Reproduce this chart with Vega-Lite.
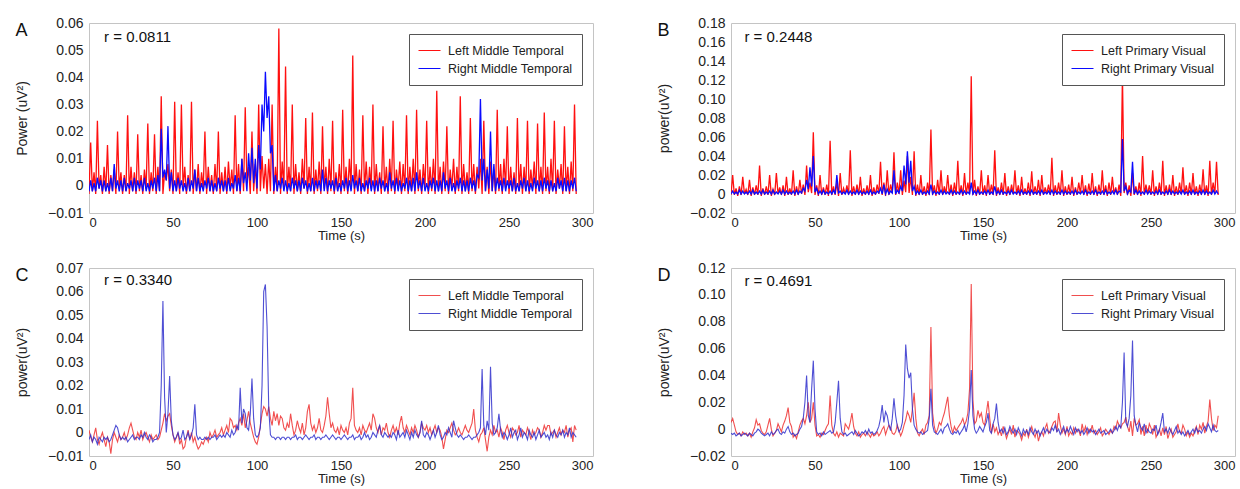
{
"$schema":"https://vega.github.io/schema/vega-lite/v6.json",
"padding":{"left":15,"top":15,"right":0,"bottom":0},
"background":"white",
"datasets":{"d":[
{"t":0,"a":-0.003,"b":-0.002,"c":-0.001,"d":0,"e":0.001,"f":-0.003,"g":0.005,"h":-0.003},
{"t":1,"a":0.016,"b":0.002,"c":0.02,"d":0.003,"e":-0.002,"f":-0.001,"g":0.008,"h":-0.004},
{"t":2,"a":-0.002,"b":-0.002,"c":-0.001,"d":0,"e":-0.004,"f":-0.004,"g":0.003,"h":-0.003},
{"t":3,"a":0.005,"b":0.001,"c":0.006,"d":0.002,"e":-0.001,"f":-0.002,"g":-0.002,"h":-0.005},
{"t":4,"a":-0.003,"b":-0.002,"c":-0.002,"d":0,"e":0.002,"f":-0.003,"g":-0.004,"h":-0.004},
{"t":5,"a":0.024,"b":0.003,"c":0.008,"d":0.004,"e":-0.003,"f":-0.005,"g":-0.003,"h":-0.003},
{"t":6,"a":-0.001,"b":-0.001,"c":-0.001,"d":0,"e":-0.005,"f":-0.002,"g":-0.005,"h":-0.005},
{"t":7,"a":0.004,"b":0.002,"c":0.018,"d":0.003,"e":-0.002,"f":-0.003,"g":-0.002,"h":-0.004},
{"t":8,"a":-0.003,"b":-0.002,"c":0,"d":0,"e":0,"f":-0.004,"g":-0.004,"h":-0.003},
{"t":9,"a":0.007,"b":0.002,"c":0.005,"d":0.002,"e":-0.003,"f":-0.002,"g":-0.003,"h":-0.004},
{"t":10,"a":-0.002,"b":-0.002,"c":-0.001,"d":0,"e":-0.006,"f":-0.003,"g":-0.005,"h":-0.005},
{"t":11,"a":0.015,"b":0.001,"c":0.015,"d":0.003,"e":-0.002,"f":-0.002,"g":-0.003,"h":-0.003},
{"t":12,"a":-0.003,"b":-0.002,"c":-0.002,"d":0,"e":-0.004,"f":-0.004,"g":-0.006,"h":-0.004},
{"t":13,"a":0.004,"b":0.003,"c":0.007,"d":0.004,"e":-0.009,"f":-0.003,"g":-0.002,"h":-0.005},
{"t":14,"a":-0.002,"b":-0.002,"c":-0.001,"d":0,"e":-0.003,"f":-0.001,"g":0.001,"h":-0.003},
{"t":15,"a":0.006,"b":0.008,"c":0.009,"d":0.002,"e":0,"f":0.001,"g":0.007,"h":-0.002},
{"t":16,"a":-0.003,"b":-0.001,"c":-0.001,"d":0,"e":-0.002,"f":0.003,"g":0.003,"h":0},
{"t":17,"a":0.02,"b":0.002,"c":0.03,"d":0.003,"e":-0.004,"f":0.002,"g":0.004,"h":-0.001},
{"t":18,"a":-0.001,"b":-0.002,"c":-0.002,"d":0,"e":-0.001,"f":-0.001,"g":-0.001,"h":-0.003},
{"t":19,"a":0.005,"b":0.002,"c":0.006,"d":0.004,"e":-0.003,"f":-0.003,"g":-0.003,"h":-0.004},
{"t":20,"a":-0.003,"b":-0.002,"c":-0.001,"d":0,"e":-0.002,"f":-0.002,"g":-0.004,"h":-0.005},
{"t":21,"a":0.004,"b":0.003,"c":0.008,"d":0.002,"e":0,"f":-0.003,"g":-0.002,"h":-0.004},
{"t":22,"a":-0.002,"b":-0.002,"c":-0.001,"d":0,"e":-0.003,"f":-0.002,"g":0.003,"h":-0.003},
{"t":23,"a":0.026,"b":0.001,"c":0.02,"d":0.003,"e":-0.001,"f":-0.004,"g":0.008,"h":-0.005},
{"t":24,"a":-0.003,"b":-0.001,"c":-0.002,"d":0,"e":0.002,"f":-0.003,"g":0,"h":-0.002},
{"t":25,"a":0.007,"b":0.002,"c":0.005,"d":0.004,"e":0.004,"f":-0.002,"g":-0.005,"h":-0.004},
{"t":26,"a":-0.002,"b":-0.002,"c":-0.001,"d":0,"e":0.001,"f":-0.001,"g":-0.003,"h":-0.003},
{"t":27,"a":0.005,"b":0.003,"c":0.022,"d":0.002,"e":-0.002,"f":-0.003,"g":-0.001,"h":-0.001},
{"t":28,"a":-0.003,"b":-0.002,"c":0,"d":0,"e":-0.003,"f":-0.002,"g":0.004,"h":0},
{"t":29,"a":0.019,"b":0.002,"c":0.007,"d":0.003,"e":0,"f":-0.002,"g":0.001,"h":-0.003},
{"t":30,"a":-0.002,"b":-0.001,"c":-0.001,"d":0,"e":-0.002,"f":-0.003,"g":-0.002,"h":-0.004},
{"t":31,"a":0.004,"b":0.002,"c":0.009,"d":0.004,"e":0.001,"f":-0.001,"g":0.003,"h":-0.002},
{"t":32,"a":-0.003,"b":-0.002,"c":-0.002,"d":0,"e":-0.003,"f":-0.002,"g":0.006,"h":-0.003},
{"t":33,"a":0.006,"b":0.003,"c":0.018,"d":0.003,"e":-0.001,"f":0,"g":0.01,"h":0},
{"t":34,"a":-0.001,"b":-0.002,"c":-0.001,"d":0,"e":0,"f":-0.002,"g":0.016,"h":0.002},
{"t":35,"a":0.023,"b":0.001,"c":0.006,"d":0.002,"e":-0.002,"f":-0.003,"g":0.005,"h":-0.002},
{"t":36,"a":-0.003,"b":-0.002,"c":-0.001,"d":0,"e":-0.004,"f":-0.001,"g":0.002,"h":-0.004},
{"t":37,"a":0.005,"b":0.002,"c":0.025,"d":0.003,"e":-0.001,"f":-0.002,"g":-0.006,"h":-0.003},
{"t":38,"a":-0.002,"b":-0.001,"c":-0.002,"d":0,"e":-0.003,"f":-0.004,"g":-0.004,"h":-0.005},
{"t":39,"a":0.019,"b":0.003,"c":0.008,"d":0.004,"e":-0.002,"f":-0.003,"g":-0.007,"h":-0.004},
{"t":40,"a":-0.003,"b":-0.002,"c":-0.001,"d":0,"e":-0.001,"f":-0.003,"g":-0.002,"h":-0.003},
{"t":41,"a":0.007,"b":0.004,"c":0.015,"d":0.003,"e":-0.003,"f":-0.002,"g":0.003,"h":0},
{"t":42,"a":-0.002,"b":-0.002,"c":0,"d":0.001,"e":-0.002,"f":0,"g":0.006,"h":0.002},
{"t":43,"a":0.033,"b":0.021,"c":0.01,"d":0.006,"e":0.001,"f":0.02,"g":0.008,"h":0.008},
{"t":44,"a":-0.003,"b":0.003,"c":-0.001,"d":0.003,"e":0.004,"f":0.056,"g":0.004,"h":0.02},
{"t":45,"a":0.005,"b":0.006,"c":0.03,"d":0.015,"e":0.008,"f":0.015,"g":0.01,"h":0.04},
{"t":46,"a":0.002,"b":0.002,"c":0.002,"d":0.005,"e":0.005,"f":0,"g":0.02,"h":0.01},
{"t":47,"a":0.008,"b":0.022,"c":0.012,"d":0.028,"e":0.007,"f":0.008,"g":0.005,"h":0.005},
{"t":48,"a":-0.002,"b":-0.001,"c":0.001,"d":0.008,"e":0.008,"f":0.024,"g":0.008,"h":0.03},
{"t":49,"a":0.006,"b":0.005,"c":0.065,"d":0.04,"e":0.003,"f":0.005,"g":0.02,"h":0.051},
{"t":50,"a":-0.003,"b":-0.002,"c":-0.001,"d":0.002,"e":-0.001,"f":-0.001,"g":0.003,"h":0.015},
{"t":51,"a":0.031,"b":0.002,"c":0.009,"d":0.006,"e":-0.004,"f":-0.003,"g":-0.005,"h":-0.002},
{"t":52,"a":-0.002,"b":-0.002,"c":-0.002,"d":0,"e":-0.002,"f":-0.002,"g":-0.004,"h":-0.004},
{"t":53,"a":0.005,"b":0.003,"c":0.02,"d":0.003,"e":0,"f":0,"g":-0.006,"h":-0.003},
{"t":54,"a":-0.003,"b":-0.001,"c":-0.001,"d":0,"e":-0.005,"f":-0.003,"g":-0.003,"h":-0.005},
{"t":55,"a":0.03,"b":0.002,"c":0.007,"d":0.004,"e":-0.003,"f":-0.002,"g":-0.004,"h":-0.002},
{"t":56,"a":-0.001,"b":-0.002,"c":-0.001,"d":0,"e":-0.007,"f":0.001,"g":-0.001,"h":-0.004},
{"t":57,"a":0.007,"b":0.001,"c":0.01,"d":0.002,"e":-0.006,"f":-0.003,"g":0.002,"h":-0.003},
{"t":58,"a":-0.003,"b":-0.002,"c":-0.002,"d":0,"e":-0.002,"f":-0.002,"g":0.004,"h":-0.002},
{"t":59,"a":0.004,"b":0.003,"c":0.056,"d":0.003,"e":0.001,"f":0,"g":0.025,"h":-0.001},
{"t":60,"a":-0.002,"b":-0.002,"c":-0.001,"d":0,"e":-0.003,"f":-0.003,"g":0.003,"h":-0.003},
{"t":61,"a":0.031,"b":0.002,"c":0.008,"d":0.004,"e":0,"f":-0.001,"g":-0.003,"h":-0.002},
{"t":62,"a":-0.003,"b":-0.001,"c":-0.001,"d":0,"e":-0.004,"f":0.002,"g":-0.005,"h":0.005},
{"t":63,"a":0.006,"b":0.006,"c":0.012,"d":0.02,"e":-0.002,"f":0.012,"g":-0.002,"h":0.02},
{"t":64,"a":-0.002,"b":-0.002,"c":-0.002,"d":0.001,"e":-0.005,"f":-0.001,"g":-0.006,"h":0.036},
{"t":65,"a":0.008,"b":0.003,"c":0.022,"d":0.003,"e":-0.007,"f":-0.003,"g":-0.003,"h":0.008},
{"t":66,"a":-0.003,"b":-0.002,"c":-0.001,"d":0,"e":-0.006,"f":-0.002,"g":-0.004,"h":-0.002},
{"t":67,"a":0.005,"b":0.001,"c":0.006,"d":0.002,"e":-0.004,"f":-0.003,"g":-0.005,"h":-0.004},
{"t":68,"a":-0.001,"b":-0.002,"c":0,"d":0,"e":-0.005,"f":-0.003,"g":0.004,"h":-0.003},
{"t":69,"a":0.02,"b":0.002,"c":0.009,"d":0.004,"e":-0.003,"f":-0.002,"g":0.002,"h":-0.005},
{"t":70,"a":-0.003,"b":-0.001,"c":-0.001,"d":0,"e":-0.002,"f":-0.003,"g":0,"h":-0.004},
{"t":71,"a":0.007,"b":0.003,"c":0.046,"d":0.003,"e":-0.004,"f":-0.002,"g":0.005,"h":-0.003},
{"t":72,"a":-0.002,"b":-0.002,"c":-0.002,"d":0,"e":0,"f":-0.003,"g":0.012,"h":-0.002},
{"t":73,"a":0.004,"b":0.002,"c":0.008,"d":0.002,"e":-0.002,"f":-0.002,"g":0.002,"h":-0.004},
{"t":74,"a":-0.003,"b":-0.002,"c":-0.001,"d":0,"e":-0.001,"f":-0.002,"g":-0.003,"h":-0.001},
{"t":75,"a":0.008,"b":0.001,"c":0.01,"d":0.004,"e":0.001,"f":-0.001,"g":-0.005,"h":-0.003},
{"t":76,"a":-0.002,"b":-0.002,"c":-0.001,"d":0,"e":-0.002,"f":-0.003,"g":-0.002,"h":-0.005},
{"t":77,"a":0.02,"b":0.003,"c":0.018,"d":0.003,"e":-0.001,"f":-0.002,"g":-0.006,"h":-0.004},
{"t":78,"a":-0.003,"b":-0.001,"c":-0.002,"d":0,"e":0,"f":-0.001,"g":-0.004,"h":-0.002},
{"t":79,"a":0.005,"b":0.002,"c":0.006,"d":0.002,"e":0.002,"f":-0.002,"g":-0.003,"h":-0.003},
{"t":80,"a":-0.002,"b":-0.002,"c":-0.001,"d":0,"e":-0.001,"f":-0.001,"g":-0.005,"h":-0.001},
{"t":81,"a":0.007,"b":0.002,"c":0.009,"d":0.003,"e":0.001,"f":-0.002,"g":-0.002,"h":-0.004},
{"t":82,"a":-0.003,"b":-0.002,"c":-0.001,"d":0,"e":0.003,"f":0,"g":-0.004,"h":0},
{"t":83,"a":0.009,"b":0.003,"c":0.02,"d":0.004,"e":0,"f":-0.001,"g":-0.006,"h":-0.003},
{"t":84,"a":-0.001,"b":-0.002,"c":-0.002,"d":0,"e":0.006,"f":-0.002,"g":-0.003,"h":-0.002},
{"t":85,"a":0.006,"b":0.001,"c":0.007,"d":0.002,"e":0.005,"f":0.001,"g":-0.005,"h":-0.004},
{"t":86,"a":-0.003,"b":-0.001,"c":-0.001,"d":0,"e":0.002,"f":-0.001,"g":-0.004,"h":-0.003},
{"t":87,"a":0.026,"b":0.004,"c":0.01,"d":0.003,"e":0.003,"f":0,"g":-0.002,"h":-0.001},
{"t":88,"a":-0.002,"b":-0.002,"c":0,"d":0.001,"e":0.001,"f":0.003,"g":-0.005,"h":0.002},
{"t":89,"a":0.008,"b":0.003,"c":0.034,"d":0.006,"e":0.004,"f":0.001,"g":-0.003,"h":0.008},
{"t":90,"a":-0.003,"b":-0.002,"c":-0.001,"d":0,"e":0.006,"f":0.019,"g":0,"h":0.018},
{"t":91,"a":0.01,"b":0.01,"c":0.012,"d":0.01,"e":0.003,"f":0.004,"g":0.002,"h":0.005},
{"t":92,"a":-0.002,"b":0.001,"c":-0.002,"d":0,"e":0.008,"f":0.01,"g":-0.004,"h":0.013},
{"t":93,"a":0.029,"b":0.005,"c":0.025,"d":0.005,"e":0.002,"f":0.008,"g":0,"h":0.01},
{"t":94,"a":0.001,"b":-0.002,"c":-0.001,"d":0,"e":0.005,"f":0.002,"g":0.003,"h":0.003},
{"t":95,"a":0.007,"b":0.012,"c":0.01,"d":0.003,"e":0.009,"f":0.001,"g":0.001,"h":-0.001},
{"t":96,"a":-0.003,"b":0.002,"c":0.001,"d":0.001,"e":0.004,"f":0.008,"g":-0.003,"h":0.008},
{"t":97,"a":0.02,"b":0.014,"c":0.044,"d":0.025,"e":0.001,"f":0.023,"g":-0.004,"h":0.023},
{"t":98,"a":-0.002,"b":0.001,"c":-0.001,"d":0,"e":-0.002,"f":0.006,"g":-0.002,"h":0.01},
{"t":99,"a":0.008,"b":0.01,"c":0.012,"d":0.004,"e":-0.004,"f":-0.001,"g":0.003,"h":0.002},
{"t":100,"a":-0.003,"b":-0.001,"c":0,"d":0.001,"e":-0.005,"f":-0.002,"g":-0.001,"h":-0.002},
{"t":101,"a":0.03,"b":0.015,"c":0.025,"d":0.008,"e":-0.002,"f":-0.001,"g":-0.005,"h":0},
{"t":102,"a":-0.002,"b":0.006,"c":-0.001,"d":0.003,"e":0.003,"f":0.002,"g":-0.002,"h":0.005},
{"t":103,"a":0.011,"b":0.03,"c":0.014,"d":0.03,"e":0.008,"f":0.02,"g":0.003,"h":0.025},
{"t":104,"a":-0.001,"b":0.02,"c":0.002,"d":0.01,"e":0.011,"f":0.06,"g":0.007,"h":0.063},
{"t":105,"a":0.008,"b":0.042,"c":0.04,"d":0.045,"e":0.01,"f":0.063,"g":0.013,"h":0.045},
{"t":106,"a":-0.003,"b":0.025,"c":0.001,"d":0.012,"e":0.007,"f":0.045,"g":0.01,"h":0.038},
{"t":107,"a":0.01,"b":0.033,"c":0.018,"d":0.035,"e":0.011,"f":0.01,"g":0.005,"h":0.042},
{"t":108,"a":-0.002,"b":0.012,"c":-0.001,"d":0.003,"e":0.006,"f":-0.001,"g":0.015,"h":0.015},
{"t":109,"a":0.03,"b":0.015,"c":0.045,"d":0.008,"e":0.003,"f":-0.002,"g":0.027,"h":0.003},
{"t":110,"a":-0.003,"b":-0.002,"c":-0.002,"d":0,"e":0.009,"f":-0.002,"g":0.008,"h":0},
{"t":111,"a":0.007,"b":0.004,"c":0.01,"d":0.003,"e":0.005,"f":-0.003,"g":-0.003,"h":-0.002},
{"t":112,"a":-0.002,"b":-0.002,"c":-0.001,"d":0,"e":0.008,"f":-0.002,"g":-0.005,"h":-0.003},
{"t":113,"a":0.058,"b":0.002,"c":0.02,"d":0.004,"e":0.003,"f":-0.002,"g":-0.002,"h":-0.002},
{"t":114,"a":-0.003,"b":-0.001,"c":-0.001,"d":0,"e":0.007,"f":-0.003,"g":0,"h":-0.004},
{"t":115,"a":0.009,"b":0.003,"c":0.008,"d":0.002,"e":0.006,"f":-0.002,"g":-0.004,"h":-0.003},
{"t":116,"a":-0.001,"b":-0.002,"c":-0.002,"d":0,"e":0.002,"f":-0.002,"g":0.003,"h":-0.002},
{"t":117,"a":0.044,"b":0.002,"c":0.012,"d":0.003,"e":0.001,"f":-0.003,"g":0.005,"h":-0.001},
{"t":118,"a":-0.003,"b":-0.002,"c":-0.001,"d":0,"e":0.004,"f":-0.002,"g":0.01,"h":0.008},
{"t":119,"a":0.007,"b":0.001,"c":0.068,"d":0.01,"e":0.002,"f":-0.002,"g":0.076,"h":0.03},
{"t":120,"a":-0.002,"b":-0.002,"c":-0.001,"d":0,"e":0.008,"f":-0.003,"g":0.012,"h":0.003},
{"t":121,"a":0.03,"b":0.003,"c":0.009,"d":0.003,"e":0.003,"f":-0.002,"g":0.002,"h":-0.002},
{"t":122,"a":-0.003,"b":-0.001,"c":-0.002,"d":0,"e":-0.001,"f":-0.002,"g":-0.003,"h":-0.003},
{"t":123,"a":0.008,"b":0.002,"c":0.015,"d":0.002,"e":0.001,"f":-0.001,"g":0,"h":-0.004},
{"t":124,"a":-0.002,"b":-0.002,"c":-0.001,"d":0,"e":0.005,"f":-0.003,"g":0.005,"h":-0.002},
{"t":125,"a":0.005,"b":0.002,"c":0.025,"d":0.004,"e":0.002,"f":-0.002,"g":0.003,"h":0},
{"t":126,"a":-0.003,"b":-0.002,"c":-0.001,"d":0,"e":0,"f":-0.002,"g":0.008,"h":-0.003},
{"t":127,"a":0.01,"b":0.003,"c":0.008,"d":0.003,"e":0.004,"f":-0.003,"g":0.012,"h":0.001},
{"t":128,"a":-0.001,"b":-0.001,"c":0,"d":0,"e":-0.001,"f":-0.002,"g":0.018,"h":0.002},
{"t":129,"a":0.025,"b":0.002,"c":0.02,"d":0.002,"e":0.002,"f":-0.001,"g":0.024,"h":0.004},
{"t":130,"a":-0.003,"b":-0.002,"c":-0.001,"d":0,"e":0.009,"f":-0.002,"g":0.01,"h":0},
{"t":131,"a":0.007,"b":0.001,"c":0.01,"d":0.004,"e":0.012,"f":-0.003,"g":0.002,"h":-0.003},
{"t":132,"a":-0.002,"b":-0.002,"c":-0.002,"d":0,"e":0.004,"f":-0.002,"g":-0.003,"h":-0.004},
{"t":133,"a":0.027,"b":0.003,"c":0.012,"d":0.003,"e":0.001,"f":-0.002,"g":0.002,"h":-0.002},
{"t":134,"a":-0.003,"b":-0.002,"c":-0.001,"d":0,"e":0.003,"f":-0.001,"g":-0.001,"h":-0.003},
{"t":135,"a":0.006,"b":0.002,"c":0.035,"d":0.002,"e":0,"f":-0.003,"g":0.001,"h":-0.001},
{"t":136,"a":-0.002,"b":-0.001,"c":-0.001,"d":0,"e":0.002,"f":-0.002,"g":0.003,"h":-0.004},
{"t":137,"a":0.009,"b":0.002,"c":0.009,"d":0.004,"e":0.006,"f":-0.002,"g":0.005,"h":-0.002},
{"t":138,"a":-0.003,"b":-0.002,"c":-0.002,"d":0,"e":0.001,"f":-0.003,"g":0.008,"h":0},
{"t":139,"a":0.022,"b":0.006,"c":0.022,"d":0.003,"e":0,"f":-0.002,"g":0.003,"h":0.003},
{"t":140,"a":-0.001,"b":-0.002,"c":-0.001,"d":0,"e":0.003,"f":-0.002,"g":0.006,"h":-0.002},
{"t":141,"a":0.007,"b":0.003,"c":0.012,"d":0.002,"e":0.007,"f":-0.001,"g":0.012,"h":0.004},
{"t":142,"a":-0.003,"b":-0.002,"c":0,"d":0,"e":0.015,"f":-0.002,"g":0.03,"h":0.015},
{"t":143,"a":0.01,"b":0.002,"c":0.124,"d":0.012,"e":0.008,"f":-0.003,"g":0.108,"h":0.044},
{"t":144,"a":-0.002,"b":-0.001,"c":-0.001,"d":0,"e":0.002,"f":-0.002,"g":0.022,"h":0.01},
{"t":145,"a":0.024,"b":0.002,"c":0.015,"d":0.003,"e":0.004,"f":-0.001,"g":0.004,"h":0},
{"t":146,"a":-0.003,"b":-0.002,"c":-0.002,"d":0,"e":0.001,"f":-0.002,"g":0.006,"h":-0.003},
{"t":147,"a":0.005,"b":0.003,"c":0.008,"d":0.004,"e":0,"f":-0.003,"g":0.014,"h":-0.001},
{"t":148,"a":-0.002,"b":-0.002,"c":-0.001,"d":0,"e":0.002,"f":-0.002,"g":0.009,"h":0.002},
{"t":149,"a":0.008,"b":0.001,"c":0.025,"d":0.002,"e":-0.001,"f":-0.002,"g":0.012,"h":0},
{"t":150,"a":-0.003,"b":-0.002,"c":-0.001,"d":0,"e":0.003,"f":-0.003,"g":0.005,"h":-0.002},
{"t":151,"a":0.028,"b":0.002,"c":0.009,"d":0.003,"e":0.001,"f":-0.002,"g":0.003,"h":0.002},
{"t":152,"a":-0.002,"b":-0.001,"c":-0.002,"d":0,"e":0,"f":-0.001,"g":0.012,"h":0.005},
{"t":153,"a":0.007,"b":0.003,"c":0.02,"d":0.004,"e":0.002,"f":-0.002,"g":0.021,"h":0.012},
{"t":154,"a":-0.003,"b":-0.002,"c":-0.001,"d":0,"e":-0.001,"f":-0.003,"g":0.008,"h":-0.001},
{"t":155,"a":0.01,"b":0.002,"c":0.01,"d":0.002,"e":0.004,"f":-0.002,"g":-0.003,"h":-0.003},
{"t":156,"a":-0.001,"b":-0.002,"c":-0.001,"d":0,"e":0.006,"f":-0.002,"g":0.004,"h":0.004},
{"t":157,"a":0.048,"b":0.004,"c":0.046,"d":0.008,"e":0.019,"f":-0.001,"g":-0.002,"h":0.008},
{"t":158,"a":-0.003,"b":-0.001,"c":-0.002,"d":0,"e":0.003,"f":-0.003,"g":0.001,"h":0.019},
{"t":159,"a":0.008,"b":0.002,"c":0.007,"d":0.003,"e":0.001,"f":-0.002,"g":-0.004,"h":0.005},
{"t":160,"a":-0.002,"b":-0.002,"c":-0.001,"d":0,"e":0,"f":-0.002,"g":-0.001,"h":-0.002},
{"t":161,"a":0.006,"b":0.003,"c":0.012,"d":0.004,"e":0.002,"f":-0.001,"g":-0.005,"h":0},
{"t":162,"a":-0.003,"b":-0.002,"c":-0.001,"d":0,"e":-0.001,"f":-0.003,"g":0.002,"h":-0.003},
{"t":163,"a":0.026,"b":0.001,"c":0.022,"d":0.002,"e":0.003,"f":-0.002,"g":-0.002,"h":0.001},
{"t":164,"a":-0.002,"b":-0.002,"c":-0.002,"d":0,"e":0.001,"f":0,"g":-0.007,"h":-0.004},
{"t":165,"a":0.009,"b":0.002,"c":0.008,"d":0.003,"e":0,"f":-0.002,"g":-0.003,"h":-0.002},
{"t":166,"a":-0.003,"b":-0.001,"c":-0.001,"d":0,"e":0.002,"f":-0.001,"g":0,"h":0.002},
{"t":167,"a":0.007,"b":0.003,"c":0.01,"d":0.004,"e":0.004,"f":-0.003,"g":-0.004,"h":-0.001},
{"t":168,"a":-0.001,"b":-0.002,"c":0,"d":0,"e":0.001,"f":-0.002,"g":0.003,"h":-0.003},
{"t":169,"a":0.03,"b":0.002,"c":0.025,"d":0.002,"e":0.008,"f":0,"g":-0.006,"h":0},
{"t":170,"a":-0.003,"b":-0.002,"c":-0.001,"d":0,"e":0.006,"f":-0.001,"g":-0.001,"h":-0.004},
{"t":171,"a":0.008,"b":0.002,"c":0.009,"d":0.003,"e":0.002,"f":-0.002,"g":-0.002,"h":0.001},
{"t":172,"a":-0.002,"b":-0.002,"c":-0.002,"d":0,"e":0,"f":0.001,"g":-0.004,"h":-0.002},
{"t":173,"a":0.005,"b":0.003,"c":0.018,"d":0.004,"e":0.003,"f":0.003,"g":-0.008,"h":-0.005},
{"t":174,"a":-0.003,"b":-0.001,"c":-0.001,"d":0,"e":-0.001,"f":-0.001,"g":-0.003,"h":0},
{"t":175,"a":0.022,"b":0.002,"c":0.006,"d":0.002,"e":0.002,"f":-0.002,"g":-0.005,"h":-0.003},
{"t":176,"a":-0.002,"b":-0.002,"c":-0.001,"d":0,"e":0.001,"f":0,"g":0,"h":-0.001},
{"t":177,"a":0.007,"b":0.001,"c":0.012,"d":0.003,"e":0.004,"f":-0.001,"g":-0.006,"h":-0.004},
{"t":178,"a":-0.003,"b":-0.002,"c":-0.002,"d":0,"e":0,"f":-0.002,"g":-0.002,"h":0.001},
{"t":179,"a":0.01,"b":0.005,"c":0.024,"d":0.004,"e":-0.002,"f":-0.001,"g":0.002,"h":-0.002},
{"t":180,"a":-0.002,"b":-0.001,"c":-0.001,"d":0,"e":0.001,"f":-0.002,"g":-0.003,"h":-0.004},
{"t":181,"a":0.024,"b":0.002,"c":0.008,"d":0.002,"e":0.003,"f":0,"g":-0.006,"h":0},
{"t":182,"a":-0.003,"b":-0.002,"c":-0.001,"d":0,"e":0,"f":-0.001,"g":-0.001,"h":-0.003},
{"t":183,"a":0.006,"b":0.003,"c":0.015,"d":0.003,"e":0.002,"f":-0.003,"g":-0.009,"h":-0.001},
{"t":184,"a":-0.001,"b":-0.002,"c":-0.002,"d":0,"e":-0.001,"f":0.001,"g":-0.004,"h":-0.005},
{"t":185,"a":0.009,"b":0.002,"c":0.02,"d":0.004,"e":0.004,"f":-0.002,"g":-0.002,"h":-0.002},
{"t":186,"a":-0.003,"b":-0.002,"c":-0.001,"d":0,"e":0.007,"f":-0.001,"g":-0.005,"h":0.001},
{"t":187,"a":0.008,"b":0.001,"c":0.007,"d":0.002,"e":0.002,"f":0,"g":0.001,"h":-0.003},
{"t":188,"a":-0.002,"b":-0.001,"c":0,"d":0,"e":0,"f":-0.002,"g":0.004,"h":0},
{"t":189,"a":0.026,"b":0.003,"c":0.01,"d":0.003,"e":0.003,"f":0.001,"g":-0.003,"h":-0.002},
{"t":190,"a":-0.003,"b":-0.002,"c":-0.001,"d":0,"e":0.001,"f":-0.001,"g":-0.001,"h":-0.003},
{"t":191,"a":0.007,"b":0.002,"c":0.038,"d":0.004,"e":-0.001,"f":-0.003,"g":0.002,"h":0.001},
{"t":192,"a":-0.002,"b":-0.002,"c":-0.002,"d":0,"e":0.002,"f":0,"g":0.005,"h":-0.001},
{"t":193,"a":0.01,"b":0.003,"c":0.009,"d":0.003,"e":0,"f":-0.002,"g":0.006,"h":0.003},
{"t":194,"a":-0.003,"b":-0.002,"c":-0.001,"d":0,"e":0.003,"f":0.001,"g":-0.002,"h":-0.002},
{"t":195,"a":0.028,"b":0.005,"c":0.012,"d":0.002,"e":0.001,"f":-0.001,"g":0.012,"h":0},
{"t":196,"a":-0.002,"b":-0.001,"c":-0.001,"d":0,"e":-0.002,"f":-0.002,"g":0.003,"h":-0.004},
{"t":197,"a":0.006,"b":0.002,"c":0.025,"d":0.004,"e":0,"f":0,"g":-0.003,"h":-0.001},
{"t":198,"a":-0.003,"b":-0.002,"c":-0.002,"d":0,"e":0.004,"f":0.005,"g":0,"h":0.002},
{"t":199,"a":0.008,"b":0.003,"c":0.008,"d":0.003,"e":0.002,"f":-0.001,"g":-0.004,"h":-0.003},
{"t":200,"a":-0.001,"b":-0.002,"c":-0.001,"d":0,"e":0.001,"f":-0.002,"g":0.002,"h":0},
{"t":201,"a":0.024,"b":0.001,"c":0.01,"d":0.002,"e":0.003,"f":0,"g":-0.005,"h":-0.002},
{"t":202,"a":-0.003,"b":-0.002,"c":-0.001,"d":0,"e":0,"f":-0.001,"g":-0.002,"h":0.002},
{"t":203,"a":0.007,"b":0.002,"c":0.018,"d":0.003,"e":0.002,"f":-0.003,"g":-0.004,"h":-0.001},
{"t":204,"a":-0.002,"b":-0.001,"c":-0.002,"d":0,"e":-0.001,"f":-0.001,"g":0.001,"h":-0.004},
{"t":205,"a":0.01,"b":0.003,"c":0.007,"d":0.004,"e":0.001,"f":0.001,"g":-0.003,"h":0.001},
{"t":206,"a":-0.003,"b":-0.002,"c":-0.001,"d":0,"e":0.003,"f":-0.002,"g":0,"h":-0.002},
{"t":207,"a":0.035,"b":0.002,"c":0.012,"d":0.002,"e":0,"f":0,"g":-0.001,"h":0},
{"t":208,"a":-0.002,"b":-0.002,"c":0,"d":0,"e":0.002,"f":0.003,"g":-0.005,"h":-0.003},
{"t":209,"a":0.007,"b":0.002,"c":0.02,"d":0.003,"e":0.001,"f":-0.001,"g":0.004,"h":-0.001},
{"t":210,"a":-0.003,"b":-0.002,"c":-0.001,"d":0,"e":-0.002,"f":-0.003,"g":-0.002,"h":-0.004},
{"t":211,"a":0.009,"b":0.005,"c":0.009,"d":0.004,"e":-0.007,"f":-0.002,"g":0.002,"h":-0.002},
{"t":212,"a":-0.002,"b":-0.001,"c":-0.002,"d":0,"e":-0.003,"f":0,"g":-0.004,"h":0.001},
{"t":213,"a":0.022,"b":0.002,"c":0.011,"d":0.002,"e":0.001,"f":-0.001,"g":0,"h":-0.003},
{"t":214,"a":-0.003,"b":-0.002,"c":-0.001,"d":0,"e":0,"f":0.002,"g":-0.002,"h":0},
{"t":215,"a":0.006,"b":0.003,"c":0.022,"d":0.003,"e":0.002,"f":0,"g":0.003,"h":-0.002},
{"t":216,"a":-0.001,"b":-0.002,"c":-0.001,"d":0,"e":0.004,"f":-0.002,"g":-0.003,"h":-0.001},
{"t":217,"a":0.01,"b":0.001,"c":0.008,"d":0.004,"e":0.001,"f":0.005,"g":-0.001,"h":-0.004},
{"t":218,"a":-0.003,"b":-0.002,"c":-0.002,"d":0,"e":-0.001,"f":0.002,"g":-0.004,"h":-0.002},
{"t":219,"a":0.007,"b":0.002,"c":0.01,"d":0.002,"e":0,"f":-0.001,"g":-0.002,"h":0},
{"t":220,"a":-0.002,"b":-0.001,"c":-0.001,"d":0,"e":0.002,"f":-0.002,"g":0.001,"h":-0.003},
{"t":221,"a":0.033,"b":0.003,"c":0.025,"d":0.003,"e":0,"f":-0.001,"g":-0.005,"h":-0.002},
{"t":222,"a":-0.003,"b":-0.002,"c":-0.001,"d":0,"e":-0.001,"f":-0.002,"g":-0.003,"h":-0.001},
{"t":223,"a":0.008,"b":0.002,"c":0.009,"d":0.004,"e":0.001,"f":-0.003,"g":0,"h":-0.004},
{"t":224,"a":-0.002,"b":-0.002,"c":-0.002,"d":0,"e":0.003,"f":-0.002,"g":-0.002,"h":-0.003},
{"t":225,"a":0.005,"b":0.002,"c":0.012,"d":0.002,"e":0.001,"f":-0.002,"g":-0.004,"h":-0.002},
{"t":226,"a":-0.003,"b":-0.002,"c":-0.001,"d":0,"e":0,"f":-0.001,"g":-0.001,"h":0},
{"t":227,"a":0.025,"b":0.003,"c":0.018,"d":0.003,"e":0.002,"f":-0.002,"g":-0.003,"h":-0.003},
{"t":228,"a":-0.002,"b":-0.001,"c":0,"d":0,"e":0.004,"f":-0.003,"g":0.002,"h":-0.001},
{"t":229,"a":0.008,"b":0.002,"c":0.007,"d":0.004,"e":0.01,"f":-0.002,"g":0,"h":0.002},
{"t":230,"a":-0.003,"b":-0.002,"c":-0.001,"d":0,"e":0.001,"f":-0.002,"g":0.006,"h":-0.001},
{"t":231,"a":0.007,"b":0.004,"c":0.01,"d":0.003,"e":-0.002,"f":-0.001,"g":0.003,"h":0.003},
{"t":232,"a":-0.001,"b":0.003,"c":-0.002,"d":0.002,"e":-0.004,"f":0,"g":0.001,"h":0.001},
{"t":233,"a":0.01,"b":0.032,"c":0.125,"d":0.058,"e":-0.001,"f":0.002,"g":0.004,"h":0.02},
{"t":234,"a":-0.003,"b":0.002,"c":0.001,"d":0.003,"e":0,"f":0.027,"g":0.005,"h":0.057},
{"t":235,"a":0.024,"b":0.01,"c":0.012,"d":0.008,"e":0.002,"f":0.003,"g":0.009,"h":0.005},
{"t":236,"a":-0.002,"b":-0.002,"c":-0.001,"d":0,"e":-0.003,"f":-0.001,"g":0.002,"h":0.002},
{"t":237,"a":0.007,"b":0.006,"c":0.009,"d":0.004,"e":-0.008,"f":0.005,"g":-0.002,"h":0.008},
{"t":238,"a":-0.003,"b":-0.001,"c":-0.002,"d":0.002,"e":-0.002,"f":0.001,"g":0.006,"h":0.025},
{"t":239,"a":0.009,"b":0.02,"c":0.022,"d":0.034,"e":0.001,"f":0.028,"g":-0.005,"h":0.066},
{"t":240,"a":-0.002,"b":-0.002,"c":-0.001,"d":0,"e":-0.001,"f":0.004,"g":0.008,"h":0.01},
{"t":241,"a":0.006,"b":0.008,"c":0.008,"d":0.004,"e":0.003,"f":-0.001,"g":0.003,"h":0.003},
{"t":242,"a":-0.003,"b":-0.002,"c":-0.001,"d":0,"e":0,"f":0,"g":0.004,"h":-0.002},
{"t":243,"a":0.028,"b":0.003,"c":0.012,"d":0.003,"e":0.001,"f":0.002,"g":0.007,"h":0.005},
{"t":244,"a":-0.002,"b":-0.001,"c":-0.002,"d":0,"e":-0.002,"f":0.008,"g":-0.004,"h":0.001},
{"t":245,"a":0.008,"b":0.002,"c":0.04,"d":0.002,"e":0.002,"f":0.001,"g":0.002,"h":-0.001},
{"t":246,"a":-0.003,"b":-0.002,"c":-0.001,"d":0,"e":0,"f":-0.002,"g":-0.005,"h":0.004},
{"t":247,"a":0.01,"b":0.003,"c":0.01,"d":0.004,"e":-0.003,"f":0,"g":0.003,"h":-0.003},
{"t":248,"a":-0.001,"b":-0.002,"c":0,"d":0,"e":0.001,"f":-0.001,"g":-0.003,"h":0},
{"t":249,"a":0.022,"b":0.002,"c":0.009,"d":0.003,"e":0.003,"f":-0.003,"g":0.004,"h":-0.002},
{"t":250,"a":-0.003,"b":-0.001,"c":-0.001,"d":0,"e":0,"f":-0.001,"g":0.001,"h":-0.003},
{"t":251,"a":0.007,"b":0.002,"c":0.025,"d":0.002,"e":-0.002,"f":0.002,"g":-0.004,"h":0},
{"t":252,"a":-0.002,"b":-0.002,"c":-0.002,"d":0,"e":0.002,"f":-0.002,"g":0.003,"h":-0.001},
{"t":253,"a":0.005,"b":0.003,"c":0.008,"d":0.003,"e":0.001,"f":0,"g":-0.006,"h":0.003},
{"t":254,"a":-0.003,"b":-0.002,"c":-0.001,"d":0,"e":-0.001,"f":0.001,"g":-0.003,"h":-0.004},
{"t":255,"a":0.025,"b":0.001,"c":0.012,"d":0.004,"e":0,"f":-0.003,"g":0,"h":-0.001},
{"t":256,"a":-0.002,"b":-0.002,"c":-0.001,"d":0,"e":0.003,"f":-0.001,"g":-0.005,"h":0.005},
{"t":257,"a":0.008,"b":0.002,"c":0.035,"d":0.002,"e":-0.002,"f":0.002,"g":0.001,"h":0.012},
{"t":258,"a":-0.003,"b":-0.001,"c":-0.002,"d":0,"e":0.001,"f":-0.002,"g":-0.004,"h":-0.002},
{"t":259,"a":0.007,"b":0.003,"c":0.009,"d":0.003,"e":0,"f":0,"g":0.002,"h":0},
{"t":260,"a":-0.002,"b":-0.002,"c":-0.001,"d":0,"e":-0.001,"f":-0.001,"g":-0.007,"h":-0.003},
{"t":261,"a":0.024,"b":0.002,"c":0.01,"d":0.004,"e":0.002,"f":-0.003,"g":-0.003,"h":0.001},
{"t":262,"a":-0.003,"b":-0.002,"c":-0.001,"d":0,"e":0,"f":0.001,"g":0,"h":-0.002},
{"t":263,"a":0.006,"b":0.001,"c":0.02,"d":0.003,"e":-0.003,"f":-0.001,"g":-0.006,"h":-0.004},
{"t":264,"a":-0.001,"b":-0.002,"c":-0.002,"d":0,"e":0.001,"f":-0.002,"g":-0.004,"h":-0.001},
{"t":265,"a":0.009,"b":0.003,"c":0.008,"d":0.002,"e":-0.001,"f":0,"g":-0.002,"h":0.002},
{"t":266,"a":-0.003,"b":-0.001,"c":-0.001,"d":0,"e":0,"f":-0.003,"g":0.004,"h":-0.003},
{"t":267,"a":0.023,"b":0.002,"c":0.012,"d":0.003,"e":0.002,"f":-0.001,"g":-0.002,"h":-0.001},
{"t":268,"a":-0.002,"b":-0.002,"c":0,"d":0,"e":0.001,"f":0.001,"g":-0.003,"h":-0.004},
{"t":269,"a":0.007,"b":0.002,"c":0.028,"d":0.004,"e":-0.002,"f":-0.002,"g":0.003,"h":-0.002},
{"t":270,"a":-0.003,"b":-0.002,"c":-0.001,"d":0,"e":0,"f":-0.001,"g":0,"h":-0.005},
{"t":271,"a":0.027,"b":0.003,"c":0.009,"d":0.002,"e":0.003,"f":0,"g":-0.005,"h":-0.003},
{"t":272,"a":-0.002,"b":-0.001,"c":-0.002,"d":0,"e":0.001,"f":-0.002,"g":-0.002,"h":-0.001},
{"t":273,"a":0.007,"b":0.002,"c":0.012,"d":0.003,"e":0.003,"f":-0.001,"g":-0.006,"h":-0.004},
{"t":274,"a":-0.003,"b":-0.002,"c":-0.001,"d":0,"e":0.003,"f":-0.003,"g":-0.003,"h":-0.002},
{"t":275,"a":0.01,"b":0.002,"c":0.022,"d":0.004,"e":-0.001,"f":0,"g":-0.005,"h":0},
{"t":276,"a":-0.002,"b":-0.002,"c":-0.001,"d":0,"e":0,"f":-0.002,"g":-0.001,"h":-0.003},
{"t":277,"a":0.024,"b":0.001,"c":0.008,"d":0.002,"e":0.001,"f":0.001,"g":0.002,"h":0.001},
{"t":278,"a":-0.003,"b":-0.002,"c":-0.002,"d":0,"e":-0.002,"f":-0.001,"g":-0.004,"h":-0.002},
{"t":279,"a":0.006,"b":0.003,"c":0.01,"d":0.003,"e":0,"f":-0.002,"g":0.003,"h":-0.001},
{"t":280,"a":-0.001,"b":-0.001,"c":-0.001,"d":0,"e":0.002,"f":0,"g":0,"h":-0.003},
{"t":281,"a":0.008,"b":0.002,"c":0.026,"d":0.004,"e":-0.001,"f":-0.001,"g":0.005,"h":0},
{"t":282,"a":-0.003,"b":-0.002,"c":-0.001,"d":0,"e":0.001,"f":0.001,"g":-0.003,"h":0.002},
{"t":283,"a":0.022,"b":0.003,"c":0.009,"d":0.003,"e":0,"f":-0.002,"g":0.002,"h":-0.001},
{"t":284,"a":-0.002,"b":-0.002,"c":-0.002,"d":0,"e":0.003,"f":0,"g":0.006,"h":0.004},
{"t":285,"a":0.007,"b":0.002,"c":0.035,"d":0.002,"e":-0.002,"f":-0.001,"g":0.022,"h":0.001},
{"t":286,"a":-0.003,"b":-0.002,"c":-0.001,"d":0,"e":0.001,"f":0.002,"g":0.008,"h":-0.002},
{"t":287,"a":0.009,"b":0.002,"c":0.012,"d":0.004,"e":0.002,"f":-0.002,"g":-0.001,"h":0.003},
{"t":288,"a":-0.002,"b":-0.001,"c":0,"d":0,"e":-0.004,"f":0,"g":0.003,"h":-0.001},
{"t":289,"a":0.03,"b":0.003,"c":0.034,"d":0.003,"e":0.003,"f":-0.001,"g":0.001,"h":-0.002},
{"t":290,"a":-0.003,"b":-0.002,"c":-0.001,"d":0,"e":0.001,"f":-0.002,"g":0.01,"h":-0.001}
]},
"data":{"name":"d"},
"config":{
 "font":"Liberation Sans",
 "view":{"stroke":"#c4c4c4","strokeWidth":1},
 "axis":{"grid":false,"domain":false,"ticks":false,"labelOverlap":false,"labelFontSize":13,"titleFontSize":13,"titleFontWeight":"normal","labelColor":"#222222","titleColor":"#222222"},
 "axisX":{"labelPadding":3,"titlePadding":0},
 "axisY":{"labelFontSize":14,"labelPadding":6,"titleFontSize":14,"titlePadding":18},
 "legend":{"orient":"top-right","offset":11,"labelFontSize":12.5,"labelColor":"#222222","symbolType":"stroke","symbolSize":484,"symbolStrokeWidth":1,"strokeColor":"#555555","fillColor":"#ffffff","padding":9,"rowPadding":3,"clipHeight":15,"labelOffset":7,"cornerRadius":0},
 "title":{"anchor":"start","frame":"bounds","fontSize":18,"fontWeight":"normal","color":"#111111","offset":0,"dy":28},
 "text":{"font":"Liberation Sans","color":"#111111"}
},
"resolve":{"scale":{"color":"independent"},"legend":{"color":"independent"}},
"spacing":17,
"vconcat":[
{"hconcat":[
 {"width":504,"height":190,"title":{"text":"A"},
  "layer":[
   {"mark":{"type":"line","strokeWidth":1.3,"clip":true},
    "encoding":{
     "x":{"field":"t","type":"quantitative","title":"Time (s)","scale":{"domain":[0,300],"nice":false},"axis":{"values":[0,50,100,150,200,250,300],"tickCount":20,"labelOverlap":false}},
     "y":{"field":"a","type":"quantitative","title":"Power (uV²)","scale":{"domain":[-0.01,0.06],"nice":false,"zero":false},"axis":{"values":[-0.01,0,0.01,0.02,0.03,0.04,0.05,0.06],"tickCount":20,"labelOverlap":false,"labelExpr":"datum.value == 0 ? '0' : format(datum.value, '.2f')"}},
     "color":{"datum":"Left Middle Temporal","type":"nominal","scale":{"domain":["Left Middle Temporal","Right Middle Temporal"],"range":["#ff1010","#0a0aff"]},"legend":{"title":null}}}},
   {"mark":{"type":"line","strokeWidth":1.3,"clip":true},
    "encoding":{
     "x":{"field":"t","type":"quantitative","title":"Time (s)"},
     "y":{"field":"b","type":"quantitative","title":"Power (uV²)"},
     "color":{"datum":"Right Middle Temporal","type":"nominal"}}},
   {"data":{"values":[{"r":"r = 0.0811"}]},
    "mark":{"type":"text","align":"left","baseline":"middle","fontSize":15},
    "encoding":{"x":{"datum":9},"y":{"datum":0.055},"text":{"field":"r"}}}
  ]},
 {"width":504,"height":190,"title":{"text":"B"},
  "layer":[
   {"mark":{"type":"line","strokeWidth":1.3,"clip":true},
    "encoding":{
     "x":{"field":"t","type":"quantitative","title":"Time (s)","scale":{"domain":[0,300],"nice":false},"axis":{"values":[0,50,100,150,200,250,300],"tickCount":20,"labelOverlap":false}},
     "y":{"field":"c","type":"quantitative","title":"power(uV²)","scale":{"domain":[-0.02,0.18],"nice":false,"zero":false},"axis":{"values":[-0.02,0,0.02,0.04,0.06,0.08,0.1,0.12,0.14,0.16,0.18],"tickCount":20,"labelOverlap":false,"labelExpr":"datum.value == 0 ? '0' : format(datum.value, '.2f')"}},
     "color":{"datum":"Left Primary Visual","type":"nominal","scale":{"domain":["Left Primary Visual","Right Primary Visual"],"range":["#ff1010","#0a0aff"]},"legend":{"title":null}}}},
   {"mark":{"type":"line","strokeWidth":1.3,"clip":true},
    "encoding":{
     "x":{"field":"t","type":"quantitative","title":"Time (s)"},
     "y":{"field":"d","type":"quantitative","title":"power(uV²)"},
     "color":{"datum":"Right Primary Visual","type":"nominal"}}},
   {"data":{"values":[{"r":"r = 0.2448"}]},
    "mark":{"type":"text","align":"left","baseline":"middle","fontSize":15},
    "encoding":{"x":{"datum":8},"y":{"datum":0.165},"text":{"field":"r"}}}
  ]}
 ],"spacing":63,"resolve":{"scale":{"color":"independent"},"legend":{"color":"independent"}}},
{"hconcat":[
 {"width":504,"height":188,"title":{"text":"C"},
  "layer":[
   {"mark":{"type":"line","strokeWidth":1.1,"opacity":0.85,"clip":true},
    "encoding":{
     "x":{"field":"t","type":"quantitative","title":"Time (s)","scale":{"domain":[0,300],"nice":false},"axis":{"values":[0,50,100,150,200,250,300],"tickCount":20,"labelOverlap":false}},
     "y":{"field":"e","type":"quantitative","title":"power(uV²)","scale":{"domain":[-0.01,0.07],"nice":false,"zero":false},"axis":{"values":[-0.01,0,0.01,0.02,0.03,0.04,0.05,0.06,0.07],"tickCount":20,"labelOverlap":false,"labelExpr":"datum.value == 0 ? '0' : format(datum.value, '.2f')"}},
     "color":{"datum":"Left Middle Temporal","type":"nominal","scale":{"domain":["Left Middle Temporal","Right Middle Temporal"],"range":["#ee3030","#3030cc"]},"legend":{"title":null}}}},
   {"mark":{"type":"line","strokeWidth":1.1,"opacity":0.85,"clip":true},
    "encoding":{
     "x":{"field":"t","type":"quantitative","title":"Time (s)"},
     "y":{"field":"f","type":"quantitative","title":"power(uV²)"},
     "color":{"datum":"Right Middle Temporal","type":"nominal"}}},
   {"data":{"values":[{"r":"r = 0.3340"}]},
    "mark":{"type":"text","align":"left","baseline":"middle","fontSize":15},
    "encoding":{"x":{"datum":9},"y":{"datum":0.065},"text":{"field":"r"}}}
  ]},
 {"width":504,"height":188,"title":{"text":"D"},
  "layer":[
   {"mark":{"type":"line","strokeWidth":1.1,"opacity":0.85,"clip":true},
    "encoding":{
     "x":{"field":"t","type":"quantitative","title":"Time (s)","scale":{"domain":[0,300],"nice":false},"axis":{"values":[0,50,100,150,200,250,300],"tickCount":20,"labelOverlap":false}},
     "y":{"field":"g","type":"quantitative","title":"power(uV²)","scale":{"domain":[-0.02,0.12],"nice":false,"zero":false},"axis":{"values":[-0.02,0,0.02,0.04,0.06,0.08,0.1,0.12],"tickCount":20,"labelOverlap":false,"labelExpr":"datum.value == 0 ? '0' : format(datum.value, '.2f')"}},
     "color":{"datum":"Left Primary Visual","type":"nominal","scale":{"domain":["Left Primary Visual","Right Primary Visual"],"range":["#ee3030","#3030cc"]},"legend":{"title":null}}}},
   {"mark":{"type":"line","strokeWidth":1.1,"opacity":0.85,"clip":true},
    "encoding":{
     "x":{"field":"t","type":"quantitative","title":"Time (s)"},
     "y":{"field":"h","type":"quantitative","title":"power(uV²)"},
     "color":{"datum":"Right Primary Visual","type":"nominal"}}},
   {"data":{"values":[{"r":"r = 0.4691"}]},
    "mark":{"type":"text","align":"left","baseline":"middle","fontSize":15},
    "encoding":{"x":{"datum":8},"y":{"datum":0.11},"text":{"field":"r"}}}
  ]}
 ],"spacing":63,"resolve":{"scale":{"color":"independent"},"legend":{"color":"independent"}}}
]
}
